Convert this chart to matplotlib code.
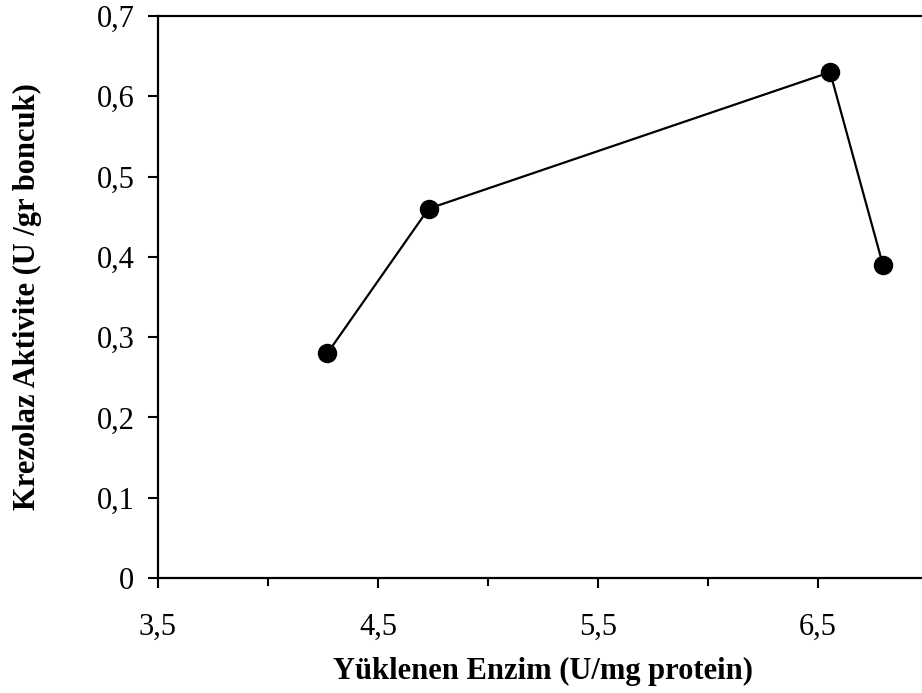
import numpy as np
import matplotlib.pyplot as plt
from matplotlib.ticker import FixedLocator

# Data
enzim = [4.27, 4.73, 6.555, 6.795]
aktivite = [0.28, 0.46, 0.63, 0.39]

x_major = [3.5, 4.5, 5.5, 6.5]
x_minor = [4.0, 5.0, 6.0, 7.0]
x_labels = ['3,5', '4,5', '5,5', '6,5']
y_ticks = [0, 0.1, 0.2, 0.3, 0.4, 0.5, 0.6, 0.7]
y_labels = ['0', '0,1', '0,2', '0,3', '0,4', '0,5', '0,6', '0,7']

plt.rcParams['font.family'] = ['Liberation Serif', 'DejaVu Serif']

fig = plt.figure(figsize=(9.22, 6.93), dpi=100)
ax = fig.add_axes([158/922, 1 - 578/693, 770/922, 562/693])

ax.plot(enzim, aktivite, color='black', lw=1.6, marker='o', ms=13,
        clip_on=False, zorder=3)

ax.set_xlim(3.5, 7.0)
ax.set_ylim(0, 0.7)
ax.xaxis.set_major_locator(FixedLocator(x_major))
ax.xaxis.set_minor_locator(FixedLocator(x_minor))
ax.set_xticklabels(x_labels)
ax.set_yticks(y_ticks)
ax.set_yticklabels(y_labels)

ax.tick_params(axis='both', which='major', direction='out', length=7,
               width=1.5, labelsize=22)
ax.tick_params(axis='y', which='major', pad=10)
ax.tick_params(axis='x', which='major', pad=18)
ax.tick_params(axis='x', which='minor', direction='out', length=6, width=1.5)

for side in ['left', 'bottom', 'top']:
    ax.spines[side].set_linewidth(1.6)
ax.spines['right'].set_visible(False)

ax.set_xlabel('Yüklenen Enzim (U/mg protein)', fontsize=22, fontweight='bold',
              labelpad=11)
ax.set_ylabel('Krezolaz Aktivite (U /gr boncuk)', fontsize=22,
              fontweight='bold')
ax.yaxis.set_label_coords(-0.1506, 0.5)

fig.savefig('out.png', dpi=100)
